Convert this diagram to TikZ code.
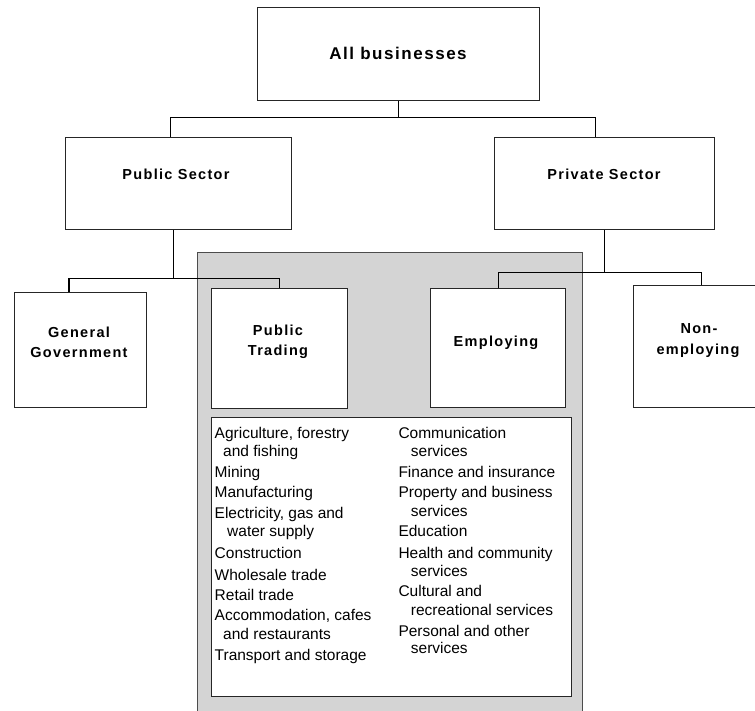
\documentclass[tikz,border=0pt]{standalone}
\usepackage{fontspec}
\setmainfont{Liberation Sans}
\newfontfamily\hdfont[LetterSpace=9]{Liberation Sans}
\usetikzlibrary{positioning,calc}
\tikzset{
  box/.style    = {draw=black!85, line width=1.1pt, fill=white,
                   anchor=north west, inner sep=0pt},
  shade/.style  = {box, draw=black!70, line width=0.8pt, fill=black!17},
  hd/.style     = {font=\hdfont\bfseries\fontsize{14.5}{17}\selectfont,
                   anchor=base, inner sep=0pt},
  hdbig/.style  = {hd, font=\hdfont\bfseries\fontsize{17}{20}\selectfont},
  item/.style   = {font=\fontsize{15.5}{18}\selectfont,
                   anchor=base west, inner sep=0pt},
  ln/.style     = {line width=0.9pt},
}

\begin{document}
\begin{tikzpicture}[x=1pt,y=-1pt]
  \useasboundingbox (0,0) rectangle (755,711);

  % --- shaded trading / employing area ---
  \node[shade, minimum width=385pt, minimum height=470pt] (area) at (197.3,252.3) {};

  % --- boxes ---
  \node[box, minimum width=282pt, minimum height=93pt]    (all)    at (257,7) {};
  \node[box, minimum width=226pt, minimum height=92.6pt]  (pub)    at (64.5,136.7) {};
  \node[box, minimum width=220pt, minimum height=92.6pt]  (priv)   at (493.6,136.7) {};
  \node[box, minimum width=131.4pt, minimum height=115.6pt] (gg)   at (14.3,291.7) {};
  \node[box, minimum width=135.7pt, minimum height=119.4pt] (pt)   at (211,288.3) {};
  \node[box, minimum width=135pt, minimum height=119pt]   (emp)    at (430,288.3) {};
  \node[box, minimum width=135pt, minimum height=121.7pt] (nonemp) at (633.3,285) {};
  \node[box, minimum width=360.3pt, minimum height=279pt] (ind)    at (210.7,416.7) {};

  % --- headings ---
  \node[hdbig] (allt)  at (398,60)    {All businesses};
  \node[hd]    (pubt)  at (176,179.2) {Public Sector};
  \node[hd]    (privt) at (604,180)   {Private Sector};
  \node[hd]    (ggt1)  at (79,337.3)  {General};
  \node[hd]    (ggt2)  at (79,357.3)  {Government};
  \node[hd]    (ptt1)  at (278,335.7) {Public};
  \node[hd]    (ptt2)  at (278,355.2) {Trading};
  \node[hd]    (empt)  at (496,346)   {Employing};
  \node[hd]    (net1)  at (699,333.3) {Non-};
  \node[hd]    (net2)  at (698,354)   {employing};

  % --- connectors ---
  \coordinate (pubin)  at ($(pub.north)+(-8,0)$);
  \coordinate (privin) at ($(priv.north)+(-9.2,0)$);
  \draw[ln] (all.south) -- ++(0,16.7) coordinate (busA);
  \draw[ln] (pubin) |- (busA) -| (privin);

  \coordinate (ggin) at ($(gg.north)+(-11.7,0)$);
  \draw[ln] ($(pub.south)+(-4.8,0)$) -- ++(0,48) coordinate (busB);
  \draw[ln] (ggin |- busB) -| (pt.north);
  \draw[ln] (busB) -- (ggin |- busB);
  \draw[line width=2pt] (ggin) -- (ggin |- busB);

  \draw[ln] (priv.south) -- ++(0,42.4) coordinate (busC);
  \draw[ln] (emp.north) |- (busC) -| (nonemp.north);

  % --- industries list ---
  \foreach \y/\dx/\txt [count=\i] in {
      438.5/0/{Agriculture, forestry}, 456.8/8.5/{and fishing},
      477.8/0/Mining, 497.8/0/Manufacturing,
      518.5/0/{Electricity, gas and}, 536.8/12.5/{water supply},
      558.5/0/Construction, 580.1/0/{Wholesale trade},
      600.1/0/{Retail trade}, 620.1/0/{Accommodation, cafes},
      639.5/8.5/{and restaurants}, 660.1/0/{Transport and storage}}
    \node[item] (lt\i) at (214.5+\dx,\y) {\txt};
  \foreach \y/\dx/\txt [count=\i] in {
      438.5/0/Communication, 456.8/12.4/services,
      477.8/0/{Finance and insurance}, 497.8/0/{Property and business},
      516.1/12.4/services, 536.8/0/Education,
      558.5/0/{Health and community}, 576.8/12.4/services,
      596.8/0/{Cultural and}, 615.1/12.4/{recreational services},
      636.8/0/{Personal and other}, 653.5/12.4/services}
    \node[item] (rt\i) at (398.3+\dx,\y) {\txt};
\end{tikzpicture}
\end{document}
